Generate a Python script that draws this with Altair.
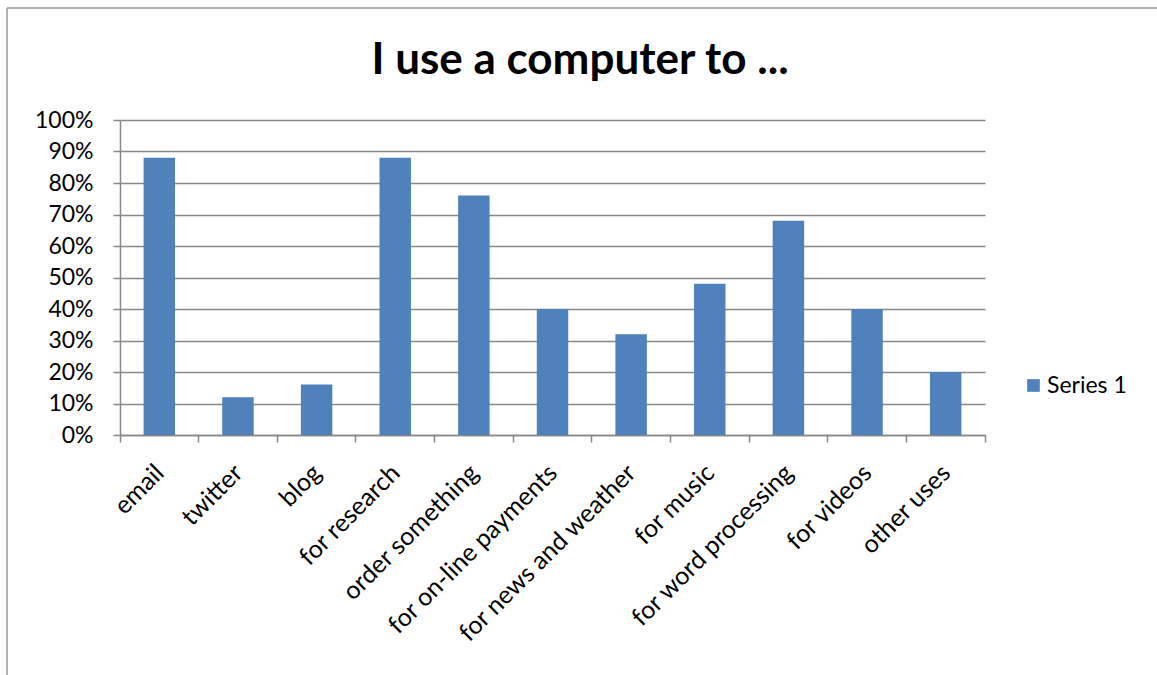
import altair as alt
import pandas as pd

categories = ["email", "twitter", "blog", "for research", "order something",
              "for on-line payments", "for news and weather", "for music",
              "for word processing", "for videos", "other uses"]
values = [0.88, 0.12, 0.16, 0.88, 0.76, 0.40, 0.32, 0.48, 0.68, 0.40, 0.20]
series = ["Series 1"] * len(categories)
y_ticks = [0, 0.1, 0.2, 0.3, 0.4, 0.5, 0.6, 0.7, 0.8, 0.9, 1.0]
title_text = "I use a computer to ..."

df = pd.DataFrame({"category": categories, "value": values, "series": series})

FONT = "Lato"
GRID = "#888888"
FS = 23

bars = alt.Chart(df).mark_bar(width=alt.RelativeBandSize(0.4), color="#4F81BD").encode(
    x=alt.X("category:N", sort=categories, title=None,
            scale=alt.Scale(paddingInner=0, paddingOuter=0),
            axis=alt.Axis(labelAngle=-45, labelAlign="right", labelBaseline="top",
                          labelFontSize=25, labelFont=FONT, labelColor="#000000",
                          labelLimit=0, labelPadding=18, labelOffset=-8,
                          tickSize=7, tickColor=GRID,
                          domainColor=GRID, bandPosition=1, tickExtra=True, grid=False,
                          domainWidth=1.5, tickWidth=1.5)),
    y=alt.Y("value:Q", title=None,
            scale=alt.Scale(domain=[0, 1], nice=False),
            axis=alt.Axis(values=y_ticks, format=".0%", labelFontSize=FS, labelFont=FONT,
                          labelColor="#000000", labelPadding=20, tickSize=7,
                          tickColor=GRID, domainColor=GRID, gridColor=GRID,
                          gridWidth=1.5, domainWidth=1.5, tickWidth=1.5)),
    color=alt.Color("series:N", scale=alt.Scale(range=["#4F81BD"]),
                    legend=alt.Legend(title=None, orient="none", legendX=902, legendY=254,
                                      symbolType="square", symbolSize=160,
                                      symbolStrokeWidth=0, labelFontSize=FS,
                                      labelOffset=2,
                                      labelFont=FONT, labelColor="#000000")),
)

title = alt.Chart(alt.Data(values=[{}])).mark_text(
    text=title_text, font=FONT, fontSize=44, fontWeight="bold", color="#000000",
    align="center", baseline="middle").encode(x=alt.value(460), y=alt.value(-59))

border_left = alt.Chart(alt.Data(values=[{}])).mark_rule(color="#999999", strokeWidth=1.5).encode(
    x=alt.value(-113), y=alt.value(-112), y2=alt.value(560))
border_top = alt.Chart(alt.Data(values=[{}])).mark_rule(color="#999999", strokeWidth=1.5).encode(
    x=alt.value(-113), x2=alt.value(1040), y=alt.value(-112))

chart = alt.layer(bars, title, border_left, border_top).properties(
    width=865, height=315,
    autosize=alt.AutoSizeParams(type="none"),
    padding={"left": 120, "top": 120, "right": 172, "bottom": 240},
).configure_view(stroke=None)

chart.save("out.html", embed_options={"renderer": "svg", "actions": False})
